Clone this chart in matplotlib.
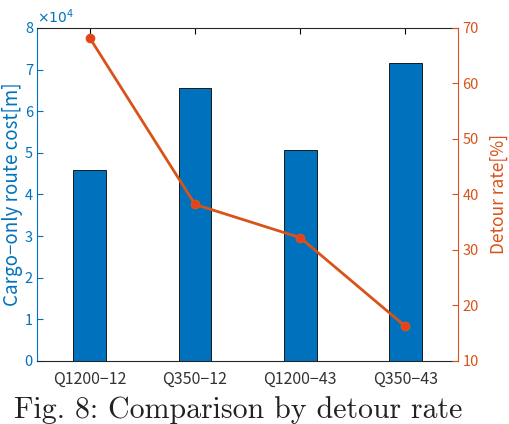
import matplotlib.pyplot as plt

categories = ["Q1200\u221212", "Q350\u221212", "Q1200\u221243", "Q350\u221243"]
route_cost = [45900, 65500, 50700, 71700]   # Cargo-only route cost [m]
detour_rate = [68.2, 38.2, 32.2, 16.2]      # Detour rate [%]

blue = "#0072BD"
orange = "#D95319"
sans = ["Noto Sans CJK JP", "DejaVu Sans"]

fig = plt.figure(figsize=(5.09, 4.24), dpi=100)
ax = fig.add_axes([0.073, 0.149, 0.827, 0.785])
x = list(range(1, len(categories) + 1))

# bars on the left axis (scaled by 1e4)
ax.bar(x, [v / 1e4 for v in route_cost], width=0.31, color=blue,
       edgecolor="#1a1a1a", linewidth=0.7, zorder=2)
ax.set_xlim(0.5, 4.5)
ax.set_ylim(0, 8)
ax.set_yticks(range(0, 9))
ax.set_xticks(x)
ax.set_xticklabels(categories, family=sans, fontsize=11.5, color="#333333")
for lab in ax.get_yticklabels():
    lab.set_family(sans)
ax.tick_params(axis="y", colors=blue, direction="in", labelsize=10.5, length=4, pad=3)
ax.tick_params(axis="x", direction="in", length=4, top=True, pad=7)
ax.set_ylabel("Cargo\u2212only route cost[m]", color=blue, family=sans, fontsize=13.5)
ax.yaxis.set_label_coords(-0.033, 0.5)
ax.text(0.0, 1.005, r"$\times10^4$", transform=ax.transAxes, color=blue,
        fontsize=10, ha="left", va="bottom")
ax.spines["left"].set_color(blue)
ax.spines["right"].set_visible(False)
for s in ("top", "bottom"):
    ax.spines[s].set_color("#262626")
for s in ax.spines.values():
    s.set_linewidth(0.8)

# line on the right axis
ax2 = ax.twinx()
ax2.plot(x, detour_rate, color=orange, linewidth=2, marker="o", markersize=6,
         markerfacecolor="#E8401C", markeredgecolor=orange, zorder=3)
ax2.set_ylim(10, 70)
ax2.set_yticks(range(10, 71, 10))
for lab in ax2.get_yticklabels():
    lab.set_family(sans)
ax2.tick_params(axis="y", colors=orange, direction="in", labelsize=10.5, length=4, pad=3)
ax2.set_ylabel("Detour rate[%]", color=orange, family=sans, fontsize=12.5)
ax2.yaxis.set_label_coords(1.074, 0.5)
ax2.spines["right"].set_color(orange)
ax2.spines["right"].set_linewidth(0.8)
for s in ("left", "top", "bottom"):
    ax2.spines[s].set_visible(False)

fig.text(0.4676, 0.013, "Fig. 8: Comparison by detour rate", ha="center", va="baseline",
         family="cmr10", fontsize=21.5, color="#222222")

fig.savefig("out.png", dpi=100)
